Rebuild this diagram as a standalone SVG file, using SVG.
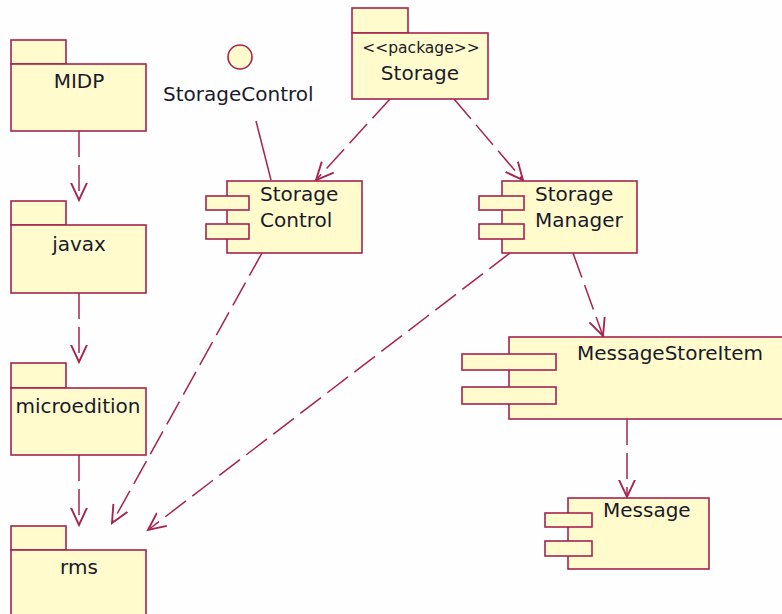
<svg xmlns="http://www.w3.org/2000/svg" width="782" height="614" viewBox="0 0 782 614">
<style>
.b{fill:#FFFBCC;stroke:#A52450;stroke-width:1.6}
.c{fill:none;stroke:#A52450;stroke-width:1.5}
.d{fill:none;stroke:#A52450;stroke-width:1.5;stroke-dasharray:26 8}
.t{font-family:"DejaVu Sans",Verdana,sans-serif;font-size:20px;fill:#1a1a2a}
.m{text-anchor:middle}
.s{font-family:"DejaVu Sans",Verdana,sans-serif;font-size:15.5px;fill:#1a1a2a}
</style>
<defs>
<marker id="v" markerUnits="userSpaceOnUse" markerWidth="20" markerHeight="20" refX="14" refY="8" orient="auto" viewBox="0 0 16 16">
<path d="M0,1.5 L14,8 L0,14.5" fill="none" stroke="#A52450" stroke-width="1.5"/>
</marker>
</defs>
<rect width="782" height="614" fill="#FEFEFE"/>
<g id="connectors">
<line class="d" x1="79" y1="131" x2="79" y2="200" marker-end="url(#v)"/>
<line class="d" x1="79" y1="293" x2="79" y2="362" marker-end="url(#v)"/>
<line class="d" x1="79" y1="455" x2="79" y2="525" marker-end="url(#v)"/>
<line class="c" x1="256" y1="121" x2="271" y2="180"/>
<line class="d" x1="390" y1="99" x2="316" y2="180" marker-end="url(#v)"/>
<line class="d" x1="454" y1="99" x2="523" y2="180" marker-end="url(#v)"/>
<line class="d" x1="573" y1="253" x2="603" y2="336" marker-end="url(#v)"/>
<line class="d" x1="627" y1="419" x2="627" y2="497" marker-end="url(#v)"/>
<line class="d" x1="262" y1="253" x2="112" y2="523" marker-end="url(#v)"/>
<line class="d" x1="510" y1="253" x2="148" y2="530" marker-end="url(#v)"/>
</g>
<g id="MIDP">
<rect class="b" x="11" y="40" width="55" height="24"/>
<rect class="b" x="11" y="64" width="135" height="67"/>
<text class="t m" x="79" y="88">MIDP</text>
</g>
<g id="javax">
<rect class="b" x="11" y="201" width="55" height="24"/>
<rect class="b" x="11" y="225" width="135" height="68"/>
<text class="t m" x="79" y="251">javax</text>
</g>
<g id="microedition">
<rect class="b" x="11" y="363" width="55" height="25"/>
<rect class="b" x="11" y="388" width="135" height="67"/>
<text class="t m" x="78" y="413">microedition</text>
</g>
<g id="rms">
<rect class="b" x="11" y="526" width="55" height="24"/>
<rect class="b" x="11" y="550" width="135" height="70"/>
<text class="t m" x="79" y="574">rms</text>
</g>
<g id="StorageControlInterface">
<circle class="b" cx="240" cy="57" r="12"/>
<text class="t" x="163" y="101">StorageControl</text>
</g>
<g id="Storage">
<rect class="b" x="352" y="8" width="56" height="25"/>
<rect class="b" x="352" y="33" width="136" height="66"/>
<text class="s m" x="421" y="53">&lt;&lt;package&gt;&gt;</text>
<text class="t m" x="420" y="80">Storage</text>
</g>
<g id="StorageControl">
<rect class="b" x="227" y="181" width="135" height="72"/>
<rect class="b" x="206" y="196" width="43" height="14"/>
<rect class="b" x="206" y="224" width="43" height="15"/>
<text class="t" x="260" y="201">Storage</text>
<text class="t" x="260" y="227">Control</text>
</g>
<g id="StorageManager">
<rect class="b" x="502" y="181" width="135" height="72"/>
<rect class="b" x="479" y="196" width="45" height="14"/>
<rect class="b" x="479" y="224" width="45" height="15"/>
<text class="t" x="535" y="201">Storage</text>
<text class="t" x="535" y="227">Manager</text>
</g>
<g id="MessageStoreItem">
<rect class="b" x="509" y="337" width="280" height="82"/>
<rect class="b" x="462" y="354" width="94" height="16"/>
<rect class="b" x="462" y="387" width="94" height="17"/>
<text class="t" x="577" y="360">MessageStoreItem</text>
</g>
<g id="Message">
<rect class="b" x="568" y="498" width="141" height="71"/>
<rect class="b" x="545" y="513" width="47" height="14"/>
<rect class="b" x="545" y="541" width="47" height="15"/>
<text class="t" x="603" y="517">Message</text>
</g>
</svg>
